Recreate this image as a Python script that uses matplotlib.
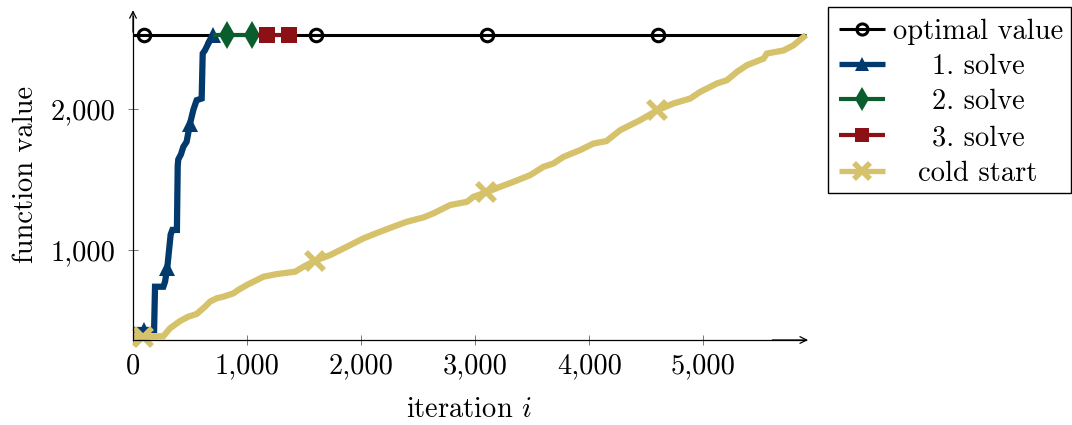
import matplotlib
matplotlib.use("Agg")
import matplotlib.pyplot as plt
from matplotlib.lines import Line2D
from matplotlib.ticker import FuncFormatter, FixedLocator

# ---------------- data ----------------
optimal_x = [0, 100, 1600, 3100, 4600, 5900]
optimal_y = [2530, 2530, 2530, 2530, 2530, 2530]
optimal_marks = [1, 2, 3, 4]

solve1_x = [0, 96, 185, 193, 266, 281, 300, 330, 345, 385, 392, 397, 420, 441,
            470, 500, 530, 558, 602, 611, 630, 660, 704]
solve1_y = [431, 431, 431, 739, 739, 775, 870, 1110, 1143, 1143, 1600, 1645, 1680,
            1734, 1770, 1900, 2000, 2066, 2078, 2398, 2420, 2469, 2530]
solve1_marks = [1, 6, 15, 22]

solve2_x = [704, 827, 1041, 1100]
solve2_y = [2530, 2530, 2530, 2530]
solve2_marks = [1, 2]

solve3_x = [1100, 1172, 1371, 1380]
solve3_y = [2530, 2530, 2530, 2530]
solve3_marks = [1, 2]

cold_x = [0, 90, 266, 324, 412, 485, 558, 631, 675, 734,
          792, 880, 923, 997, 1143, 1260, 1421, 1494, 1596, 1728,
          1874, 2020, 2166, 2283, 2400, 2546, 2634, 2780, 2927, 2985,
          3096, 3219, 3335, 3482, 3598, 3686, 3774, 3920, 4037, 4150,
          4271, 4446, 4598, 4739, 4885, 4972, 5119, 5206, 5294, 5382,
          5528, 5557, 5703, 5791, 5900]
cold_y = [384, 384, 387, 443, 495, 526, 545, 597, 633, 657,
          668, 692, 716, 751, 810, 829, 846, 881, 924, 964,
          1023, 1083, 1130, 1166, 1201, 1232, 1261, 1320, 1343, 1379,
          1410, 1450, 1485, 1533, 1592, 1616, 1663, 1711, 1758, 1775,
          1853, 1924, 1995, 2043, 2078, 2125, 2185, 2208, 2267, 2315,
          2362, 2398, 2420, 2457, 2530]
cold_marks = [1, 18, 30, 42]

x_ticks = [0, 1000, 2000, 3000, 4000, 5000]
y_ticks = [1000, 2000]
labels = ["optimal value", "1. solve", "2. solve", "3. solve", "cold start"]

# ---------------- style ----------------
plt.rcParams["font.family"] = "cmr10"
plt.rcParams["mathtext.fontset"] = "cm"
plt.rcParams["axes.formatter.use_mathtext"] = True
FS = 20.5

BLACK = "#000000"
BLUE = "#023a6e"
GREEN = "#0a5e2e"
RED = "#8b1117"
YELLOW = "#d5c26a"

fig = plt.figure(figsize=(10.72, 4.25), dpi=100)
L, R, B, T = 133 / 1072, 806 / 1072, 1 - 340 / 425, 1 - 16 / 425
ax = fig.add_axes([L, B, R - L, T - B])

styles = [
    dict(color=BLACK, lw=2.2, marker="o", ms=9, mfc="none", mew=2.2),
    dict(color=BLUE, lw=4.5, marker="^", ms=11, mew=0),
    dict(color=GREEN, lw=3.0, marker="d", ms=14, mew=0),
    dict(color=RED, lw=3.0, marker="s", ms=11, mew=0),
    dict(color=YELLOW, lw=4.5, marker="x", ms=13, mew=4),
]
series = [
    (optimal_x, optimal_y, optimal_marks),
    (solve1_x, solve1_y, solve1_marks),
    (solve2_x, solve2_y, solve2_marks),
    (solve3_x, solve3_y, solve3_marks),
    (cold_x, cold_y, cold_marks),
]
for (xs, ys, mk), st in zip(series, styles):
    ax.plot(xs, ys, markevery=mk, solid_joinstyle="miter", solid_capstyle="butt",
            clip_on=False, **st)

ax.set_xlim(0, 5900)
ax.set_ylim(360, 2665)

for s in ("top", "right"):
    ax.spines[s].set_visible(False)
for s in ("left", "bottom"):
    ax.spines[s].set_linewidth(0.9)

# arrow heads
ax.annotate("", xy=(1.003, 0), xytext=(0.95, 0), xycoords="axes fraction",
            arrowprops=dict(arrowstyle="->", lw=0.9, color="k", shrinkA=0, shrinkB=0,
                            mutation_scale=12))
ax.annotate("", xy=(0, 1.018), xytext=(0, 0.95), xycoords="axes fraction",
            arrowprops=dict(arrowstyle="->", lw=0.9, color="k", shrinkA=0, shrinkB=0,
                            mutation_scale=12))

ax.xaxis.set_major_locator(FixedLocator(x_ticks))
ax.yaxis.set_major_locator(FixedLocator(y_ticks))
fmt = FuncFormatter(lambda v, p: f"{int(round(v)):,}")
ax.xaxis.set_major_formatter(fmt)
ax.yaxis.set_major_formatter(fmt)
ax.tick_params(axis="both", direction="inout", length=7.2, width=0.7, color="#777777",
               labelsize=FS)
ax.tick_params(axis="x", pad=6)
ax.tick_params(axis="y", pad=9)

ax.set_xlabel(r"iteration $i$", fontsize=FS)
ax.set_ylabel("function value", fontsize=FS)
ax.xaxis.set_label_coords(0.499, -0.176)
ax.yaxis.set_label_coords(-0.140, 0.512)

# ---------------- legend (centered text cells) ----------------
def fx(px):
    return px / 1072

def fy(py):
    return 1 - py / 425

box = plt.Rectangle((fx(828), fy(193)), fx(1071) - fx(828), fy(7) - fy(193),
                    transform=fig.transFigure, fill=False, ec="black", lw=1.0)
fig.add_artist(box)
row_y = [29, 64, 99, 135, 171]
leg_ms = [8, 10, 12, 10, 11]
for lab, st, ry, ms in zip(labels, styles, row_y, leg_ms):
    st2 = dict(st)
    st2["ms"] = ms
    if st2["lw"] > 3.5:
        st2["lw"] = 3.8
    ln = Line2D([fx(839), fx(862), fx(885)], [fy(ry)] * 3, transform=fig.transFigure,
                markevery=[1], solid_capstyle="butt", **st2)
    fig.add_artist(ln)
    fig.text(fx(978), fy(ry), lab, ha="center", va="center_baseline", fontsize=FS)

fig.savefig("out.png", dpi=100)
